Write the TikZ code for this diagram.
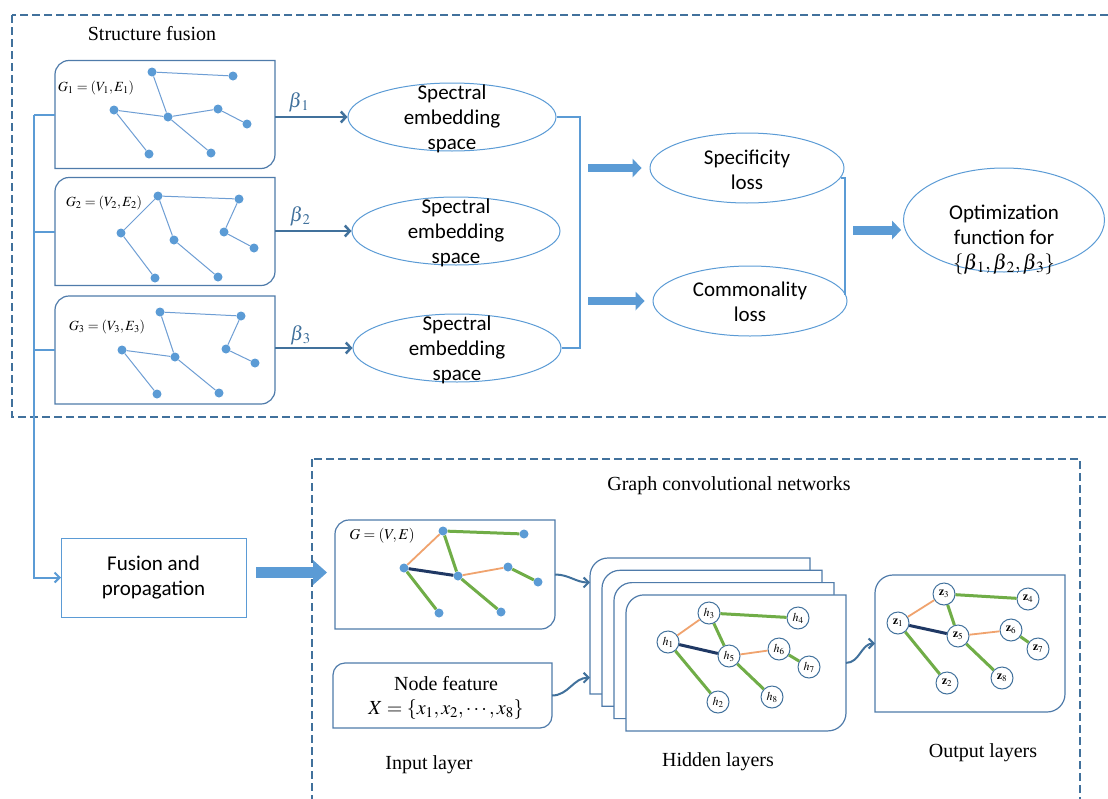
\documentclass[tikz,border=0pt]{standalone}
\usepackage{mathptmx}
\usepackage{fontspec}
\setmainfont{Liberation Serif}
\newfontfamily\calibri{Carlito}
\usetikzlibrary{calc,shapes.geometric,arrows.meta}

\definecolor{dashblue}{HTML}{41719C}
\definecolor{frameblue}{HTML}{4F7BAA}
\definecolor{lightblue}{HTML}{5B9BD5}
\definecolor{edgeblue}{HTML}{6E9ED4}
\definecolor{edgeorange}{HTML}{F0A36E}
\definecolor{edgegreen}{HTML}{70AD47}
\definecolor{edgenavy}{HTML}{1F3864}

% frame with rounded top-left and bottom-right corners around a node
\newcommand{\diagframe}[2][14pt]{%
  \path[frame] (#2.south west) -- ([yshift=-#1]#2.north west)
    arc[start angle=180, end angle=90, radius=#1] -- (#2.north east)
    -- ([yshift=#1]#2.south east)
    arc[start angle=0, end angle=-90, radius=#1] -- cycle;}
% beta with a little room before its index
\newcommand{\bt}[1]{\beta_{\mkern2mu #1}}

\begin{document}
\begin{tikzpicture}[
    x=1pt, y=1pt,
    canvas/.style={rectangle, inner sep=0pt, outer sep=0pt},
    frame/.style={draw=frameblue, line width=1.2pt, fill=white},
    dashframe/.style={draw=dashblue, line width=2.5pt, dash pattern=on 8pt off 4pt},
    dot/.style={circle, fill=lightblue, inner sep=0pt, minimum size=9pt},
    gedge/.style={edgeblue, line width=1pt},
    layernode/.style={circle, draw=dashblue, line width=1pt, fill=white, inner sep=0pt,
        minimum size=22pt, font=\fontsize{12}{12}\selectfont},
    orangeedge/.style={edgeorange, line width=1.8pt},
    greenedge/.style={edgegreen, line width=3pt},
    navyedge/.style={edgenavy, line width=3pt},
    serif/.style={font=\fontsize{20}{24}\selectfont},
    sans/.style={font=\calibri\fontsize{21}{25}\selectfont, align=center},
    glabel/.style={font=\fontsize{14}{14}\selectfont, inner sep=0pt},
    specell/.style={ellipse, draw=lightblue, line width=1pt, inner sep=0pt,
        minimum width=208pt, minimum height=68pt},
    losell/.style={ellipse, draw=lightblue, line width=1pt, inner sep=0pt,
        minimum width=194pt, minimum height=70pt},
    feed/.style={lightblue, line width=2pt},
    bracketline/.style={lightblue, line width=2pt},
    betaarrow/.style={dashblue, line width=2.5pt, -{Straight Barb[length=5pt,width=11pt]}},
    curvearrow/.style={dashblue, line width=2pt, -{Straight Barb[length=5pt,width=10pt]}},
    fatarrow/.style={lightblue, line width=8pt, -{Triangle[length=9pt,width=19pt,line width=0pt]}},
    bigarrow/.style={lightblue, line width=11pt, -{Triangle[length=14pt,width=25pt,line width=0pt]}}
]
    \useasboundingbox (0,0) rectangle (1108,-798);
    \clip (0,0) rectangle (1108,-798);

    % Dashed groups
    \draw[dashframe] (12,-15) rectangle (1130,-417);
    \draw[dashframe] (312,-459) rectangle (1080,-830);
    \node[serif] (sftitle) at (152,-34) {Structure fusion};
    \node[serif] (gcntitle) at (729,-486) {Graph convolutional networks};

    % Input graphs
    \node[canvas, minimum width=220pt, minimum height=108pt] (g1box) at (165,-114.5) {};
    \node[canvas, minimum width=220pt, minimum height=108pt] (g2box) at (165,-231.5) {};
    \node[canvas, minimum width=220pt, minimum height=108pt] (g3box) at (165,-350) {};
    \diagframe{g1box}
    \diagframe{g2box}
    \diagframe{g3box}
    \node[glabel] (g1name) at (96,-88) {$G_1=(V_1,E_1)$};
    \node[glabel] (g2name) at (104,-203) {$G_2=(V_2,E_2)$};
    \node[glabel] (g3name) at (107,-327) {$G_3=(V_3,E_3)$};

    \foreach \n/\x/\y in {a/152/72, b/233/76, c/114/110, d/168/117,
                          e/218/109, f/247/124, g/149/154, h/211/153}
        \node[dot] (p1\n) at (\x,-\y) {};
    \foreach \n/\x/\y in {a/158/196, b/239/199, c/121/233, d/174/240,
                          e/224/232, f/254/248, g/155/278, h/218/277}
        \node[dot] (p2\n) at (\x,-\y) {};
    \foreach \n/\x/\y in {a/160/312, b/241/316, c/122/350, d/175/357,
                          e/226/349, f/255/363, g/157/394, h/219/393}
        \node[dot] (p3\n) at (\x,-\y) {};

    \foreach \u/\v in {a/b, a/d, c/d, d/e, e/f, c/g, d/h}
        \draw[gedge] (p1\u) -- (p1\v);
    \foreach \u/\v in {a/b, a/c, a/d, b/e, e/f, c/g, d/h}
        \draw[gedge] (p2\u) -- (p2\v);
    \foreach \u/\v in {a/b, a/d, c/d, b/e, e/f, c/g, d/h}
        \draw[gedge] (p3\u) -- (p3\v);

    % Spectral embeddings
    \node[specell, label={[sans, yshift=-2pt]center:{Spectral\\embedding\\space}}] (se1) at (452,-117) {};
    \node[specell, label={[sans, yshift=-2pt]center:{Spectral\\embedding\\space}}] (se2) at (456,-231) {};
    \node[specell, label={[sans, yshift=-2pt]center:{Spectral\\embedding\\space}}] (se3) at (457,-348) {};

    \draw[betaarrow] (se1.west -| g1box.east) -- (se1.west)
        node[pos=0.33, yshift=15pt, font=\fontsize{20}{20}\selectfont] (b1) {$\bt{1}$};
    \draw[betaarrow] (se2.west -| g2box.east) -- (se2.west)
        node[pos=0.33, yshift=15pt, font=\fontsize{20}{20}\selectfont] (b2) {$\bt{2}$};
    \draw[betaarrow] (se3.west -| g3box.east) -- (se3.west)
        node[pos=0.33, yshift=13pt, font=\fontsize{20}{20}\selectfont] (b3) {$\bt{3}$};

    % Losses and optimization
    \coordinate (join1) at (580,-117);
    \draw[bracketline] (se1.east) -- (join1) |- (se3.east);

    \node[losell, label={[sans, yshift=-2pt]center:{Specificity\\loss}}] (spec) at (747,-168) {};
    \node[losell, label={[sans, yshift=-1pt]center:{Commonality\\loss}}] (comm) at (750,-301) {};
    \draw[fatarrow] ($(join1 |- spec.west)+(8,0)$) -- ($(spec.west)+(-8,0)$);
    \draw[fatarrow] ($(join1 |- comm.west)+(8,0)$) -- ($(comm.west)+(-8,0)$);

    \coordinate (join2) at (845,-230);
    \draw[bracketline] (spec.-6) -| (join2) |- (comm.4);

    \node[ellipse, draw=lightblue, line width=1pt, inner sep=0pt, minimum width=201pt,
        minimum height=104pt,
        label={[sans, yshift=-20pt]center:{Optimization\\function for\\
            $\{\bt{1},\bt{2},\bt{3}\}$}}] (opt) at (1004,-220) {};
    \draw[fatarrow, line width=9pt] ($(join2)+(8,0)$) -- ($(join2 -| opt.west)+(-2,0)$);

    % Fusion and propagation
    \node[canvas, draw=lightblue, line width=1pt, minimum width=185pt, minimum height=79pt,
        sans] (fusion) at (153.5,-577.5) {Fusion and\\propagation};
    \coordinate (trunk) at (34,-114.5);
    \draw[feed] (g1box.west) -- (trunk);
    \draw[feed] (g2box.west) -- (g2box.west -| trunk);
    \draw[feed] (g3box.west) -- (g3box.west -| trunk);
    \draw[feed, -{Straight Barb[length=5pt,width=10pt]}] (trunk) |- (fusion.west);

    % GCN input
    \node[canvas, minimum width=220pt, minimum height=109pt] (ginput) at (445,-574.5) {};
    \diagframe{ginput}
    \node[glabel, font=\fontsize{15}{15}\selectfont] (gname) at (382,-536) {$G=(V,E)$};
    \node[canvas, minimum width=219pt, minimum height=65pt] (feat) at (442.5,-695.5) {};
    \diagframe[12pt]{feat}
    \node[serif, align=center] (feattext) at (446,-697.5)
        {Node feature\\ $X=\{x_1,x_2,\cdots,x_8\}$};
    \draw[bigarrow] ($(fusion.east)+(10,5)$) -- ($(fusion.east -| ginput.west)+(-8,5)$);

    \foreach \n/\x/\y in {1/404/568, 2/439/613, 3/443/531, 4/524/534,
                          5/458/576, 6/508/567, 7/538/582, 8/501/612}
        \node[dot] (v\n) at (\x,-\y) {};

    % Hidden layers
    \foreach \k in {1,...,4} {
        \node[canvas, minimum width=220pt, minimum height=136pt]
            (hid\k) at ({700+12*(\k-1)},{-626-12.3*(\k-1)}) {};
        \diagframe[18pt]{hid\k}
    }
    \foreach \n/\x/\y in {1/668/642, 2/718/702, 3/709/613, 4/798/618,
                          5/729/656, 6/779/649, 7/809/667, 8/772/697}
        \node[layernode] (h\n) at (\x,-\y) {$h_{\n}$};

    % Output layer
    \node[canvas, minimum width=190pt, minimum height=137pt] (outbox) at (970,-643.5) {};
    \diagframe[18pt]{outbox}
    \foreach \n/\x/\y in {1/898/623, 2/947/683, 3/944/594, 4/1028/599,
                          5/958/636, 6/1011/630, 7/1038/649, 8/1002/678}
        \node[layernode] (z\n) at (\x,-\y) {$\mathbf{z}_{\n}$};

    % Edges (same structure in every layer)
    \foreach \a/\b/\c in {1/3/orangeedge, 3/4/greenedge, 3/5/greenedge, 1/5/navyedge,
                          5/6/orangeedge, 6/7/greenedge, 1/2/greenedge, 5/8/greenedge} {
        \draw[\c] (v\a) -- (v\b);
        \draw[\c] (h\a) -- (h\b);
        \draw[\c] (z\a) -- (z\b);
    }

    \draw[curvearrow] (ginput.east) to[out=0, in=180]
        ($(hid1.north west)!0.18!(hid1.south west)$);
    \draw[curvearrow] (feat.east) to[out=0, in=180]
        ($(hid1.north west)!0.88!(hid1.south west)$);
    \draw[curvearrow] (hid4.east) to[out=0, in=180] (outbox.west);

    % Layer labels
    \node[serif] (inlabel) at (429,-765) {Input layer};
    \node[serif] (hidlabel) at (718,-762) {Hidden layers};
    \node[serif] (outlabel) at (983,-753) {Output layers};
\end{tikzpicture}
\end{document}
